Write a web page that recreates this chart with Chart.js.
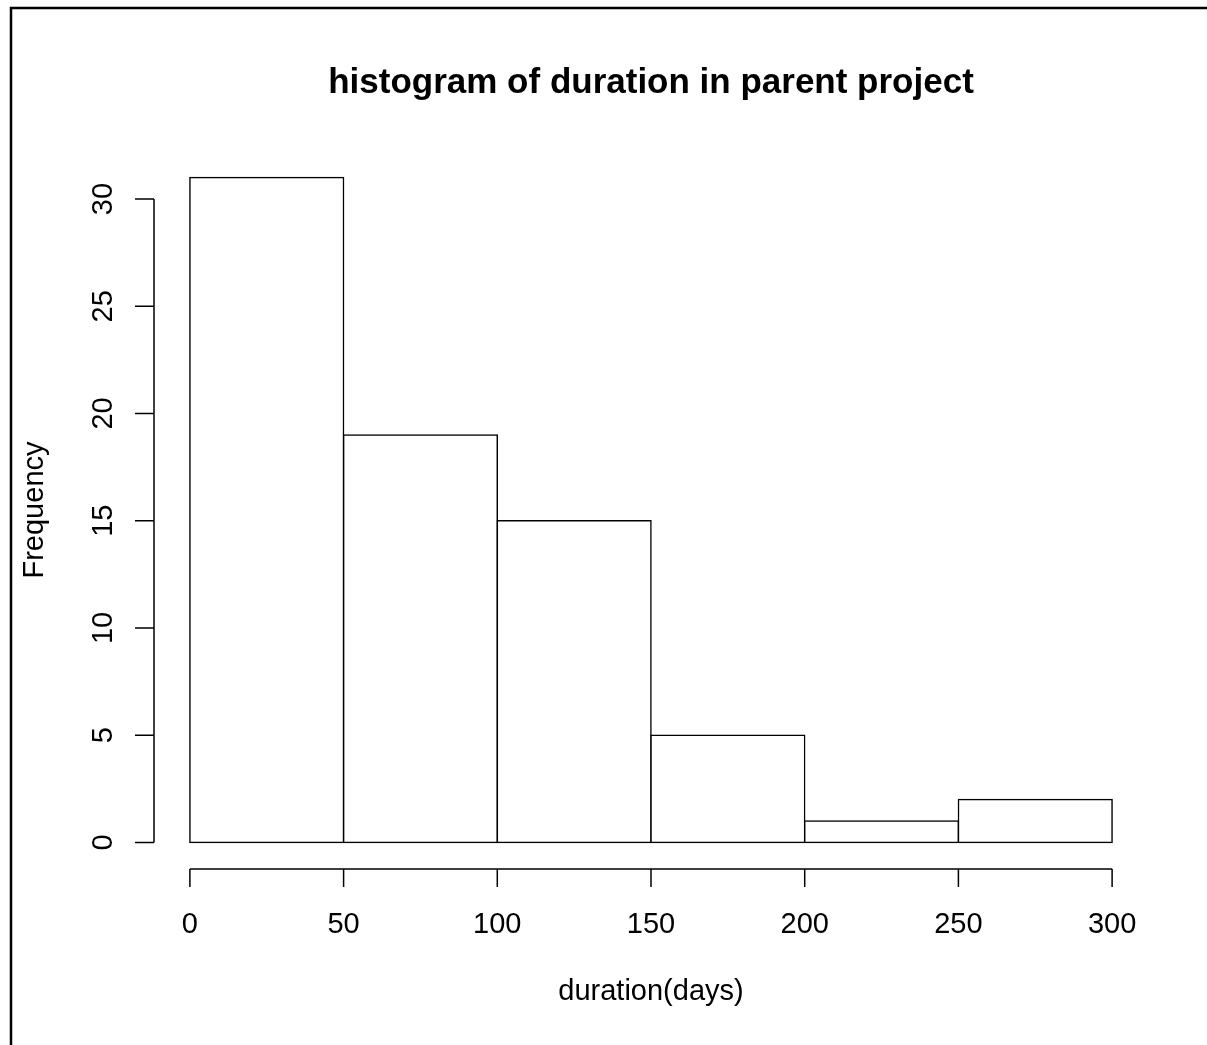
<!DOCTYPE html>
<html>
<head>
<meta charset="utf-8">
<script src="https://cdn.jsdelivr.net/npm/chart.js@4.4.1/dist/chart.umd.min.js"></script>
<style>
  html, body { margin: 0; padding: 0; background: #fff; }
  canvas { display: block; }
</style>
</head>
<body>
<canvas id="hist" width="1207" height="1045"></canvas>
<script>
// histogram bins and counts
const binEdges = [0, 50, 100, 150, 200, 250, 300];
const counts = [31, 19, 15, 5, 1, 2];
const xTicks = [0, 50, 100, 150, 200, 250, 300];
const yTicks = [0, 5, 10, 15, 20, 25, 30];
const titleText = 'histogram of duration in parent project';
const xLabel = 'duration(days)';
const yLabel = 'Frequency';

const FONT = '"Liberation Sans", Arial, sans-serif';

// bars sit at bin midpoints on a linear axis
const bars = counts.map((c, i) => ({ x: (binEdges[i] + binEdges[i + 1]) / 2, y: c }));

// base-R style 4% range extension on both axes
const xSpan = binEdges[binEdges.length - 1] - binEdges[0];
const yMax = Math.max(...counts);

// axes, labels, title and outer frame drawn like base graphics
const rAxes = {
  id: 'rAxes',
  afterDraw(chart) {
    const { ctx, chartArea } = chart;
    const x = chart.scales.x, y = chart.scales.y;
    ctx.save();
    ctx.strokeStyle = '#000';
    ctx.fillStyle = '#000';
    ctx.lineWidth = 1.5;

    // x axis along the bottom of the plot region
    const yb = chartArea.bottom;
    ctx.beginPath();
    ctx.moveTo(x.getPixelForValue(xTicks[0]), yb);
    ctx.lineTo(x.getPixelForValue(xTicks[xTicks.length - 1]), yb);
    xTicks.forEach(v => {
      const px = x.getPixelForValue(v);
      ctx.moveTo(px, yb);
      ctx.lineTo(px, yb + 18);
    });
    // y axis along the left edge
    const xl = chartArea.left + 1;
    ctx.moveTo(xl, y.getPixelForValue(yTicks[0]));
    ctx.lineTo(xl, y.getPixelForValue(yTicks[yTicks.length - 1]));
    yTicks.forEach(v => {
      const py = y.getPixelForValue(v);
      ctx.moveTo(xl, py);
      ctx.lineTo(xl - 19, py);
    });
    ctx.stroke();

    ctx.font = '29px ' + FONT;
    ctx.textAlign = 'center';
    ctx.textBaseline = 'alphabetic';
    xTicks.forEach(v => {
      ctx.fillText(String(v), x.getPixelForValue(v), 933);
    });
    yTicks.forEach(v => {
      ctx.save();
      ctx.translate(112, y.getPixelForValue(v));
      ctx.rotate(-Math.PI / 2);
      ctx.fillText(String(v), 0, 0);
      ctx.restore();
    });

    const cx = (chartArea.left + chartArea.right) / 2;
    const cy = (chartArea.top + chartArea.bottom) / 2;
    ctx.fillText(xLabel, cx, 1000);
    ctx.save();
    ctx.translate(43, cy);
    ctx.rotate(-Math.PI / 2);
    ctx.fillText(yLabel, 0, 0);
    ctx.restore();

    ctx.font = 'bold 35px ' + FONT;
    ctx.fillText(titleText, cx, 93);

    // outer frame
    ctx.lineWidth = 2.5;
    ctx.strokeRect(11, 8, 1400, 1200);
    ctx.restore();
  }
};

new Chart(document.getElementById('hist'), {
  type: 'bar',
  data: {
    datasets: [{
      data: bars,
      backgroundColor: '#fff',
      borderColor: '#000',
      borderWidth: 1.5,
      borderSkipped: false,
      // centre the border on the bin edges so neighbours share one line
      inflateAmount: 0.75,
      barPercentage: 1,
      categoryPercentage: 1
    }]
  },
  options: {
    responsive: false,
    animation: false,
    layout: { padding: { left: 153, right: 58, top: 151, bottom: 176 } },
    plugins: {
      legend: { display: false },
      tooltip: { enabled: false },
      title: { display: false }
    },
    scales: {
      x: {
        type: 'linear',
        display: false,
        offset: false,
        min: binEdges[0] - xSpan * 0.04,
        max: binEdges[binEdges.length - 1] + xSpan * 0.04,
        // ticks at the bin edges so bar widths span a full bin
        afterBuildTicks: s => { s.ticks = xTicks.map(v => ({ value: v })); }
      },
      y: {
        display: false,
        min: -yMax * 0.04,
        max: yMax * 1.04
      }
    }
  },
  plugins: [rAxes]
});
</script>
</body>
</html>
